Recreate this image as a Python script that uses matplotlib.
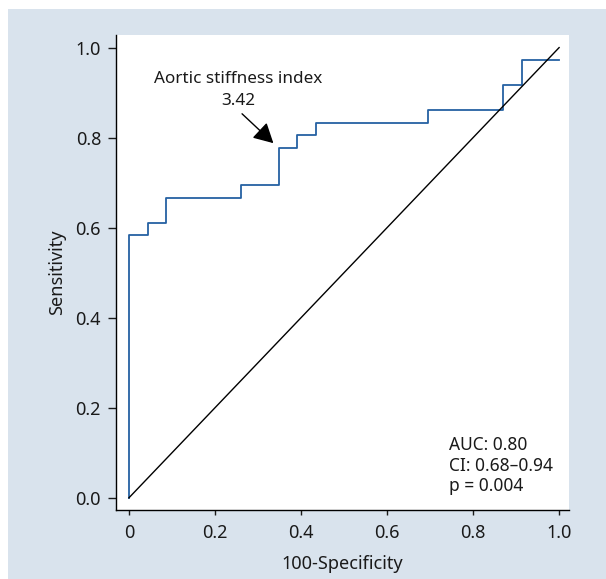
import numpy as np
import matplotlib.pyplot as plt
from matplotlib.patches import Rectangle

plt.rcParams['font.family'] = ['Noto Sans', 'DejaVu Sans']

# ROC corner points (steps of 1/23 and 1/36)
fpr = [0, 0, 1/23, 2/23, 6/23, 8/23, 9/23, 10/23, 16/23, 20/23, 21/23, 1.0]
tpr = [0, 21/36, 22/36, 24/36, 25/36, 28/36, 29/36, 30/36, 31/36, 33/36, 35/36, 35/36]

xticks = [0, 0.2, 0.4, 0.6, 0.8, 1.0]
xticklabels = ['0', '0.2', '0.4', '0.6', '0.8', '1.0']
yticks = [0, 0.2, 0.4, 0.6, 0.8, 1.0]
yticklabels = ['0.0', '0.2', '0.4', '0.6', '0.8', '1.0']

cutoff_label = 'Aortic stiffness index\n3.42'
cutoff_point = (8/23, 28/36)
stats_text = 'AUC: 0.80\nCI: 0.68\u20130.94\np = 0.004'

W, H = 606, 579
fig = plt.figure(figsize=(W/100, H/100), dpi=100, facecolor='white')
fig.patches.append(Rectangle((8/W, 0), 1, 1 - 9/H, transform=fig.transFigure,
                             facecolor='#d9e3ed', edgecolor='none', zorder=-10))

ax = fig.add_axes([116/W, 1 - 510/H, (569 - 116)/W, (510 - 35)/H])
ax.set_facecolor('white')

ax.plot(fpr, tpr, drawstyle='steps-post', color='#2561a3', lw=1.3)
ax.plot([0, 1], [0, 1], color='black', lw=1.0)

ax.set_xlim(-0.030, 1.023)
ax.set_ylim(-0.027, 1.028)

ax.spines['top'].set_visible(False)
ax.spines['right'].set_visible(False)
for s in ['left', 'bottom']:
    ax.spines[s].set_linewidth(1.0)

ax.set_xticks(xticks)
ax.set_xticklabels(xticklabels)
ax.set_yticks(yticks)
ax.set_yticklabels(yticklabels)
ax.tick_params(width=1.0, labelsize=13, colors='#1a1a1a')
ax.tick_params(axis='x', length=3.6, pad=6.5)
ax.tick_params(axis='y', length=5.8, pad=5)

ax.set_xlabel('100-Specificity', fontsize=13, labelpad=9, color='#1a1a1a')
ax.set_ylabel('Sensitivity', fontsize=13, labelpad=6.5, color='#1a1a1a')

ax.text(0.254, 0.947, cutoff_label, ha='center', va='top', fontsize=12.3,
        multialignment='center', linespacing=1.42, color='#1a1a1a')
ax.annotate('', xy=(cutoff_point[0] - 0.012, cutoff_point[1] + 0.01),
            xytext=(0.263, 0.853),
            arrowprops=dict(arrowstyle='-|>,head_length=0.5,head_width=0.27',
                            color='black', lw=1.0,
                            mutation_scale=24, shrinkA=0, shrinkB=0))

ax.text(0.745, 0.138, stats_text, ha='left', va='top', fontsize=12.5,
        linespacing=1.2, color='#1a1a1a')

fig.savefig('out.png', dpi=100, facecolor=fig.get_facecolor())
